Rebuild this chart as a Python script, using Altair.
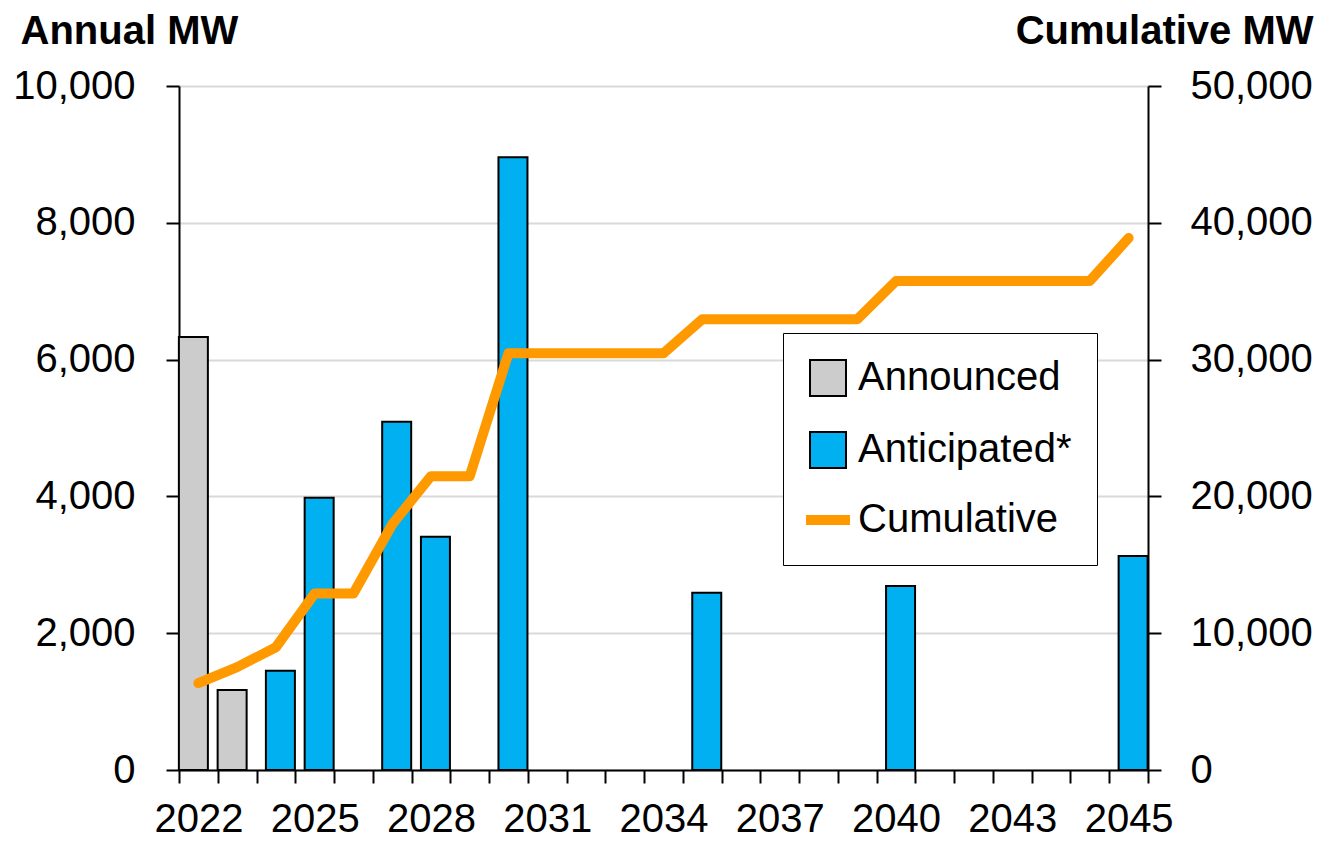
import altair as alt
import pandas as pd

# 25 category slots on the x axis (the reference shows 25 bands, last one labelled 2045)
periods = ["2022", "2023", "2024", "2025", "2026", "2027", "2028", "2029", "2030",
           "2031", "2032", "2033", "2034", "2035", "2036", "2037", "2038", "2039",
           "2040", "2041", "2042", "2043", "2044", "2045b", "2045"]
tick_labels = ["2022", "", "", "2025", "", "", "2028", "", "", "2031", "", "", "2034",
               "", "", "2037", "", "", "2040", "", "", "2043", "", "", "2045"]

announced_periods = ["2022", "2023"]
announced_mw = [6330, 1170]

anticipated_periods = ["2024", "2025", "2027", "2028", "2030", "2035", "2040", "2045"]
anticipated_mw = [1450, 3980, 5090, 3410, 8960, 2590, 2690, 3130]

cumulative_mw = [6350, 7520, 8970, 12900, 12900, 17950, 21480, 21480, 30470,
                 30470, 30470, 30470, 30470, 32950, 32950, 32950, 32950, 32950,
                 35750, 35750, 35750, 35750, 35750, 35750, 38890]

series_names = ["Announced", "Anticipated*", "Cumulative"]
fill_colors = ["#cccccc", "#00b0f0", "transparent"]
stroke_colors = ["black", "black", "#ff9900"]

FONT = "Liberation Sans, Arial, sans-serif"

bars_df = pd.DataFrame({
    "period": announced_periods + anticipated_periods,
    "mw": announced_mw + anticipated_mw,
    "series": ["Announced"] * len(announced_periods) + ["Anticipated*"] * len(anticipated_periods),
})
line_df = pd.DataFrame({"period": periods, "cum": cumulative_mw, "series": "Cumulative"})

arr = lambda xs: "[" + ",".join("'" + s + "'" for s in xs) + "]"
x_label_expr = f"{arr(tick_labels)}[indexof({arr(periods)}, datum.value)]"

x_enc = alt.X(
    "period:N",
    sort=periods,
    scale=alt.Scale(domain=periods, paddingInner=0, paddingOuter=0),
    axis=alt.Axis(
        title=None, tickBand="extent", labelExpr=x_label_expr, labelAngle=0,
        labelOverlap=False, labelFont=FONT, labelFontSize=40, labelColor="black",
        labelPadding=16, tickSize=13, tickColor="black", tickWidth=2,
        domainColor="black", domainWidth=2, grid=False,
    ),
)

sym = lambda vals: (
    f"datum.value === '{series_names[0]}' ? {vals[0]} : "
    f"(datum.value === '{series_names[1]}' ? {vals[1]} : {vals[2]})"
)

legend = alt.Legend(
    title=None, orient="none", legendX=604, legendY=247, direction="vertical",
    fillColor="white", strokeColor="black", padding=25,
    labelFont=FONT, labelFontSize=40, labelColor="black", labelOffset=10,
    labelLimit=0, rowPadding=28,
    labelExpr="datum.value === 'Anticipated*' ? '\u00a0Anticipated*' : datum.label",
    symbolType=alt.ExprRef(expr=sym(["'square'", "'square'", "'stroke'"])),
    symbolStrokeWidth=alt.ExprRef(expr=sym(["2", "2", "10"])),
    symbolSize=alt.ExprRef(expr=sym(["1296", "1296", "1936"])),
    symbolOpacity=1,
)

fill_enc = alt.Fill("series:N", scale=alt.Scale(domain=series_names, range=fill_colors), legend=legend)
stroke_enc = alt.Stroke("series:N", scale=alt.Scale(domain=series_names, range=stroke_colors), legend=legend)

y_left = alt.Y(
    "mw:Q",
    scale=alt.Scale(domain=[0, 10000]),
    axis=alt.Axis(
        values=[0, 2000, 4000, 6000, 8000, 10000], format=",d",
        title="Annual MW", titleAngle=0, titleX=-159, titleY=-43,
        titleAlign="left", titleBaseline="alphabetic", titleFont=FONT,
        titleFontSize=40, titleFontWeight="bold", titleColor="black",
        labelFont=FONT, labelFontSize=40, labelColor="black", labelPadding=31,
        tickSize=13, tickColor="black", tickWidth=2,
        domainColor="black", domainWidth=2,
        grid=True, gridColor="#d9d9d9", gridWidth=2,
    ),
)

bars_ann = alt.Chart(bars_df).transform_filter(
    alt.datum.series == "Announced"
).mark_bar(width=29, xOffset=-5, strokeWidth=2).encode(
    x=x_enc, y=y_left, fill=fill_enc, stroke=stroke_enc
)
bars_ant = alt.Chart(bars_df).transform_filter(
    alt.datum.series == "Anticipated*"
).mark_bar(width=29, xOffset=4.5, strokeWidth=2).encode(
    x=x_enc, y=y_left, fill=fill_enc, stroke=stroke_enc
)

line = alt.Chart(line_df).mark_line(strokeWidth=10, strokeCap="round", strokeJoin="round").encode(
    x=x_enc,
    y=alt.Y(
        "cum:Q",
        scale=alt.Scale(domain=[0, 50000]),
        axis=alt.Axis(
            orient="right", values=[0, 10000, 20000, 30000, 40000, 50000], format=",d",
            title="Cumulative MW", titleAngle=0, titleX=165, titleY=-43,
            titleAlign="right", titleBaseline="alphabetic", titleFont=FONT,
            titleFontSize=40, titleFontWeight="bold", titleColor="black",
            labelFont=FONT, labelFontSize=40, labelColor="black", labelPadding=29,
            tickSize=13, tickColor="black", tickWidth=2,
            domainColor="black", domainWidth=2, grid=False,
        ),
    ),
    stroke=stroke_enc,
)

chart = alt.layer(alt.layer(bars_ann, bars_ant), line).resolve_scale(
    y="independent"
).properties(
    width=969, height=684,
    autosize=alt.AutoSizeParams(type="none"),
    padding={"left": 171, "top": 78, "right": 170, "bottom": 73},
    background="white",
).configure_view(stroke=None)

chart.save("out.html", embed_options={"renderer": "svg", "actions": False})
